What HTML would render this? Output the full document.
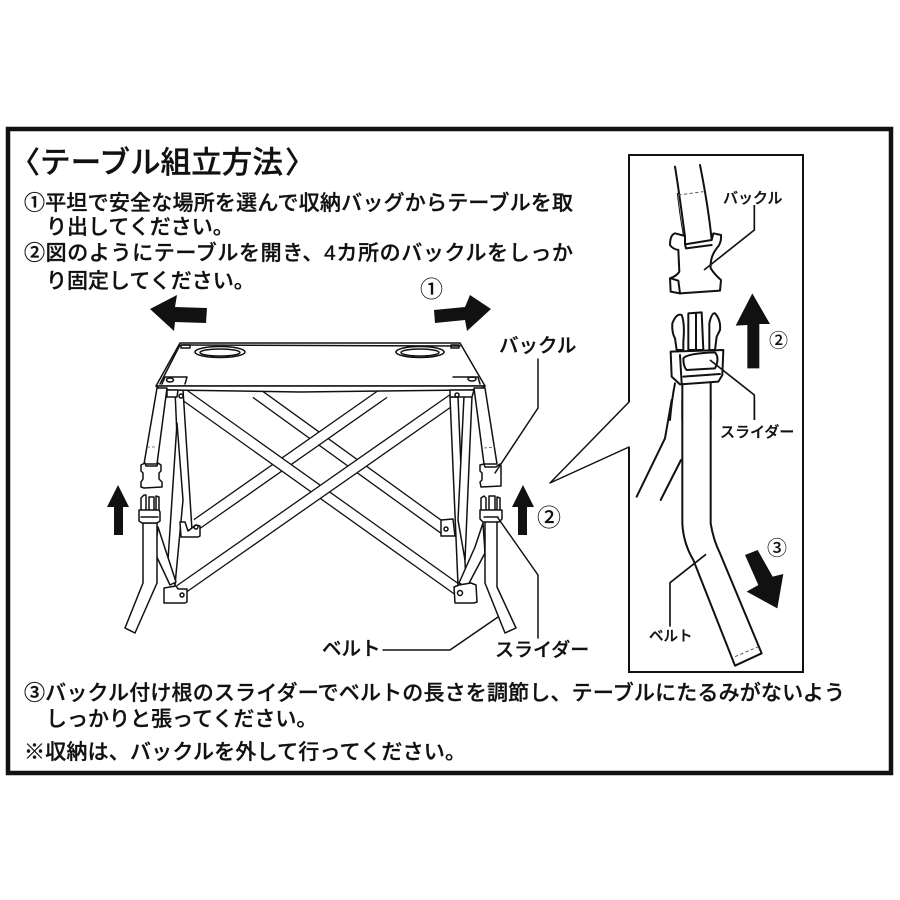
<!DOCTYPE html>
<html lang="ja"><head><meta charset="utf-8"><title>テーブル組立方法</title>
<style>
html,body{margin:0;padding:0;background:#fff}
svg{display:block}
text{font-family:"Liberation Sans","Noto Sans CJK JP",sans-serif;fill:#111;font-weight:500;stroke:#111;stroke-width:.3}
.l{fill:none;stroke:#111;stroke-width:1.5;stroke-linejoin:round;stroke-linecap:round}
.w{fill:#fff;stroke:#111;stroke-width:1.5;stroke-linejoin:round}
.z{fill:#fff;stroke:#111;stroke-width:6;stroke-linejoin:round;stroke-linecap:round}
.y{fill:none;stroke:#111;stroke-width:6;stroke-linejoin:round;stroke-linecap:round}
.t{fill:none;stroke:#111;stroke-width:5;stroke-linejoin:round}
.d{fill:none;stroke:#555;stroke-width:3;stroke-dasharray:10 7}
</style></head><body>
<svg width="900" height="900" viewBox="0 0 900 900" xmlns="http://www.w3.org/2000/svg">
<rect width="900" height="900" fill="#fff"/>
<rect x="8" y="129" width="883" height="644" fill="none" stroke="#111" stroke-width="4.5"/>

<!-- text -->
<text x="10" y="173" font-size="30">〈</text>
<text x="40" y="173" font-size="30.6">テーブル組立方法</text>
<text x="285" y="173" font-size="30">〉</text>
<g font-size="21">
<text x="24" y="210" textLength="549">①平坦で安全な場所を選んで収納バッグからテーブルを取</text>
<text x="46" y="234">り出してください。</text>
<text x="24" y="260" textLength="549">②図のようにテーブルを開き、4カ所のバックルをしっか</text>
<text x="46" y="288">り固定してください。</text>
<text x="24" y="700" textLength="821">③バックル付け根のスライダーでベルトの長さを調節し、テーブルにたるみがないよう</text>
<text x="46" y="726">しっかりと張ってください。</text>
<text x="24" y="759" textLength="442">※収納は、バックルを外して行ってください。</text>
</g>
<text x="499" y="352" font-size="19.5">バックル</text>
<text x="495" y="656" font-size="19">スライダー</text>
<text x="322" y="655" font-size="19.5">ベルト</text>
<text x="420" y="297" font-size="23" style="stroke-width:0">①</text>
<text x="537" y="526" font-size="24" style="stroke-width:0">②</text>

<!-- arrows -->
<g fill="#111">
<polygon points="150,309 177,295 175,307 207,308 206,323 175,322 174,331"/>
<polygon points="491,309 470,295 465,307 434,310 435,323 465,320 467,331"/>
<polygon points="118,485 107,507 114,507 114,535 123,535 123,507 129,507"/>
<polygon points="523,485 512,507 518,507 518,535 527,535 527,507 534,507"/>
</g>

<!-- cross bars -->
<g stroke-linecap="butt">
<line x1="256" y1="393" x2="447" y2="531" stroke="#111" stroke-width="12"/>
<line x1="256" y1="393" x2="447" y2="531" stroke="#fff" stroke-width="9.4"/>
<line x1="384" y1="393" x2="197" y2="524" stroke="#111" stroke-width="12"/>
<line x1="384" y1="393" x2="197" y2="524" stroke="#fff" stroke-width="9.4"/>
<line x1="183" y1="394" x2="458" y2="590" stroke="#111" stroke-width="12"/>
<line x1="183" y1="394" x2="458" y2="590" stroke="#fff" stroke-width="9.4"/>
<line x1="180" y1="590" x2="456" y2="397" stroke="#111" stroke-width="12"/>
<line x1="180" y1="590" x2="456" y2="397" stroke="#fff" stroke-width="9.4"/>
</g>

<!-- left struts -->
<polygon class="w" points="175,390 183,390 192,530 181,530"/>
<polygon class="w" points="177,423 168,560 175,585 183,500"/>
<polygon class="w" points="158,527 155,553 170,585 176,582"/>
<!-- right struts -->
<polygon class="w" points="450,397 458,397 466,585 458,585"/>
<polygon class="w" points="472,396 464,396 458,520 465,560"/>
<polygon class="w" points="483,523 475,547 459,583 467,587 485,553"/>

<!-- feet -->
<path class="w" d="M180,522h5l3,9 8,-6 4,1v10l-2,1h-17z"/>
<circle class="l" cx="196" cy="527" r="2"/>
<path class="w" d="M441,520l12,-1 2,17h-14z"/>
<circle class="l" cx="446" cy="529" r="2"/>
<path class="w" d="M164,588l12,-2 2,3 9,0v13l-2,1h-21z"/>
<circle class="l" cx="182" cy="595" r="2"/>
<path class="w" d="M454,587l5,-2 12,-2 5,2 1,17 -3,1h-19z"/>
<circle class="l" cx="460" cy="593" r="2.5"/>

<!-- table top -->
<polygon class="w" points="180,343 460,343 485,386 156,386" stroke-width="1.8"/>
<path class="w" d="M156,386 Q158,389 170,390 L300,392 L470,390 Q483,389 485,386z"/>
<path class="l" d="M182,345 L460,346 M180,345l-20,39"/>
<ellipse class="w" cx="220" cy="352" rx="25" ry="5.5"/>
<ellipse class="l" cx="220" cy="352.5" rx="20" ry="3.5"/>
<ellipse class="w" cx="420" cy="352" rx="24" ry="5.5"/>
<ellipse class="l" cx="420" cy="352.5" rx="19" ry="3.5"/>
<rect class="l" x="181" y="345" width="9" height="3"/>
<rect class="l" x="451" y="345" width="8" height="3"/>
<path class="l" d="M162,384l3,-7h22l-2,7"/>
<ellipse class="l" cx="170" cy="380" rx="3.5" ry="2"/>
<path class="l" d="M453,377h25l2,7"/>
<ellipse class="l" cx="472" cy="379" rx="4" ry="2"/>
<path class="w" d="M167,390h11l-1,7h-10z"/>
<path class="w" d="M450,390h24l-2,7h-22z"/>
<circle class="l" cx="181" cy="396" r="2"/>
<circle class="l" cx="457" cy="395" r="2"/>

<!-- left front leg -->
<polygon class="w" points="157,388 167,388 157,464 144,464"/>
<path class="d" style="stroke-width:.8;stroke-dasharray:3 2" d="M147,447h10"/>
<path class="w" d="M141,465l4,-2 1,3h11l1,-3 3,2v6l-2,2v6l3,3v5l-18,1-3,-1v-5l2,-3v-6l-2,-2z"/>
<path class="w" d="M143,523v60l-18,45 10,5 22,-50v-60z"/>
<path class="w" d="M141,511v-13l3,-3h2v16zM149,511v-14h5v14zM156,511v-15l3,1v14z"/>
<path class="w" d="M139,510h20l1,2v9l-3,2h-15l-3,-2z"/>
<line class="l" x1="141" y1="517" x2="158" y2="517"/>

<!-- right rear leg -->
<polygon class="w" points="474,388 485,388 497,464 484,464"/>
<path class="d" style="stroke-width:.8;stroke-dasharray:3 2" d="M484,448l11,-1"/>
<path class="w" d="M480,465l4,-1 1,3h11l4,-3 1,2v20l-20,1 -1,-5 2,-2v-7l-2,-2z"/>
<path class="w" d="M485,521v62l20,50 11,-5 -19,-41v-66z"/>
<path class="w" d="M481,511v-13l3,-2 2,2v13zM489,511v-15h6v15zM497,511v-14l3,1v13z"/>
<path class="w" d="M480,510h22v9l-3,3h-16l-3,-3z"/>
<line class="l" x1="484" y1="517" x2="498" y2="517"/>

<!-- leaders -->
<g class="l">
<polyline points="538,359 538,408 495,473"/>
<polyline points="498,518 538,575 538,638"/>
<polyline points="383,650 450,650 498,617"/>
<polyline points="629,402 550,483 629,447"/>
</g>

<!-- panel -->
<path d="M629,402V155H803V672H629V447" fill="none" stroke="#111" stroke-width="2"/>

<!-- panel upper -->
<g transform="translate(620,150) scale(.33333)">
<path class="y" d="M165,50 Q175,110 195,260 M240,45 Q265,170 275,270"/>
<path class="y" style="stroke-width:3" d="M172,130 Q180,200 190,255"/>
<path class="d" d="M175,135L250,125"/>
<path class="z" d="M195,258L165,250Q150,255 150,285Q158,297 175,300L178,365Q170,378 150,385L152,425L180,430L300,422L303,390Q285,375 272,355Q270,320 290,295Q305,280 303,255L280,250L275,270L195,283Z"/>
<path class="y" d="M195,283L198,295 275,285M152,385L175,392 180,430"/>
<polyline class="t" points="403,165 403,240 252,360"/>
<path class="z" d="M170,600L165,565Q155,548 157,520Q170,488 185,495Q195,520 190,575V600Z"/>
<path class="z" d="M268,600V520Q275,488 285,490Q303,510 300,540L290,560L285,600Z"/>
<path class="z" d="M205,600V490L245,487L250,600Z"/>
<line class="y" x1="228" y1="490" x2="228" y2="600"/>
<path class="z" d="M152,605L310,600 307,675 295,695 180,703 155,680Z"/>
<path class="z" d="M190,625Q200,610 285,607Q300,625 285,655L200,660Q190,650 190,625Z"/>
<polyline class="y" points="190,680 300,672"/>
<polyline class="y" points="185,700 180,615"/>
<polyline class="t" points="270,630 403,735 403,810"/>
<path class="y" d="M165,700Q155,750 150,810M187,703V810M272,698V810"/>
<polygon fill="#111" points="397,430 347,527 382,525 382,655 418,655 418,522 450,522"/>
</g>
<!-- panel lower -->
<g transform="translate(620,400) scale(.33333)">
<path class="y" d="M155,0L135,115 50,290M183,180L122,300"/>
<path class="z" d="M187,0V370Q190,430 220,480L345,797L425,760L300,460Q280,420 272,370V0"/>
<path class="d" d="M345,770L415,740"/>
<polyline class="t" points="258,463 150,548 150,680"/>
<polyline class="t" points="403,0 403,60"/>
<polygon fill="#111" points="375,465 413,450 458,530 490,522 472,625 380,575 415,555"/>
</g>
<text x="723" y="203" font-size="15">バックル</text>
<text x="720" y="437" font-size="15">スライダー</text>
<text x="649" y="641" font-size="14.5">ベルト</text>
<text x="769" y="347" font-size="19" style="stroke-width:0">②</text>
<text x="767" y="555" font-size="20" style="stroke-width:0">③</text>
</svg>
</body></html>
